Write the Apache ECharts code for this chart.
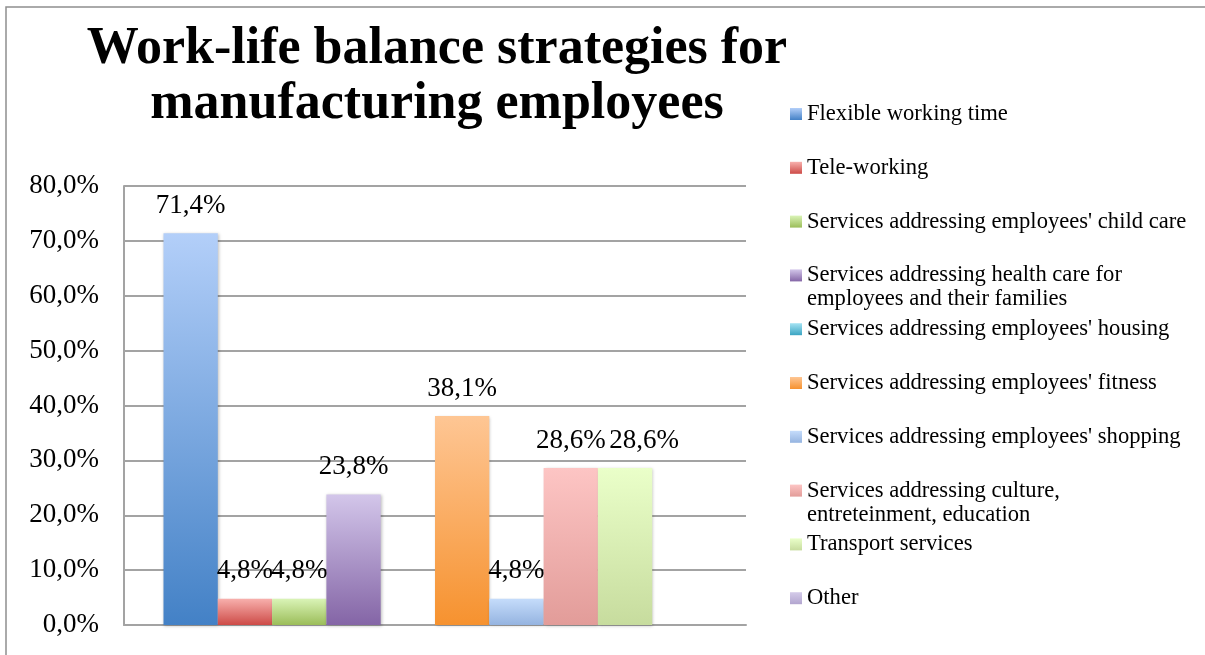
<!DOCTYPE html>
<html>
<head>
<meta charset="utf-8">
<title>Work-life balance strategies for manufacturing employees</title>
<script src="https://cdn.jsdelivr.net/npm/echarts@6/dist/echarts.min.js"></script>
<style>
  html, body { margin: 0; padding: 0; background: #ffffff; }
  #chart { width: 1205px; height: 655px; }
</style>
</head>
<body>
<div id="chart"></div>
<script>
// Survey results: share of manufacturing employers offering each strategy (%)
const seriesNames = [
  'Flexible working time',
  'Tele-working',
  "Services addressing employees' child care",
  'Services addressing health care for\nemployees and their families',
  "Services addressing employees' housing",
  "Services addressing employees' fitness",
  "Services addressing employees' shopping",
  'Services addressing culture,\nentreteinment, education',
  'Transport services',
  'Other'
];
const seriesValues = [71.4, 4.8, 4.8, 23.8, 0, 38.1, 4.8, 28.6, 28.6, 0];
const categories = [''];
const yTicks = [0, 10, 20, 30, 40, 50, 60, 70, 80];

// Bar fills: light tint at the top fading to the full colour at the base
const topColors = ['#b3cff9', '#f8b0ad', '#daf4b7', '#d3c6ea', '#a5e3f3',
                   '#fec694', '#c5dcfb', '#fdc5c4', '#eaffc9', '#d4cbe9'];
const baseColors = ['#4381c6', '#cd4b47', '#9bbd59', '#8465a6', '#3aa4c2',
                    '#f6922f', '#95b4e0', '#e29c99', '#c7dc9e', '#b2a5cf'];

const SERIF = '"Liberation Serif", "DejaVu Serif", serif';
const fmtPct = v => v.toFixed(1).replace('.', ',') + '%';

const chart = echarts.init(document.getElementById('chart'), null, { renderer: 'canvas' });

const gradient = i => new echarts.graphic.LinearGradient(0, 0, 0, 1, [
  { offset: 0, color: topColors[i] },
  { offset: 1, color: baseColors[i] }
]);

const series = seriesNames.map((name, i) => ({
  name: name,
  type: 'bar',
  barGap: '0%',
  barCategoryGap: '12.7%',
  data: [seriesValues[i]],
  itemStyle: {
    color: gradient(i),
    shadowColor: 'rgba(0,0,0,0.25)',
    shadowBlur: 3,
    shadowOffsetX: 1,
    shadowOffsetY: 1
  },
  label: {
    show: true,
    position: 'top',
    distance: 14,
    fontFamily: SERIF,
    fontSize: 27,
    color: '#000',
    // the transport label is nudged right so it clears its equal-height neighbour
    offset: name === 'Transport services' ? [19, 0] : [0, 0],
    formatter: p => (p.value > 0 ? fmtPct(p.value) : '')
  },
  emphasis: { disabled: true }
}));

// One legend block per entry so every entry starts on an even vertical rhythm;
// two-line names get a blank leading line so the swatch sits beside line one.
const LEG_LINE = 24;
const legends = seriesNames.map((name, i) => {
  const lines = name.split('\n').length;
  const h = lines > 1 ? LEG_LINE * (lines + 1) : LEG_LINE;
  const centre = 114 + 53.8 * i;
  return {
    data: [name],
    left: 790,
    top: centre - h / 2,
    orient: 'vertical',
    padding: 0,
    itemWidth: 12,
    itemHeight: 12,
    icon: 'rect',
    selectedMode: false,
    formatter: n => (n.indexOf('\n') >= 0 ? '\n' + n : n),
    textStyle: {
      fontFamily: SERIF,
      fontSize: 22.6,
      lineHeight: LEG_LINE,
      color: '#000'
    }
  };
});

const option = {
  animation: false,
  backgroundColor: '#ffffff',
  title: {
    text: 'Work-life balance strategies for\nmanufacturing employees',
    left: 437,
    top: 22,
    padding: 0,
    textAlign: 'center',
    textStyle: {
      fontFamily: SERIF,
      fontWeight: 'bold',
      fontSize: 52,
      lineHeight: 55,
      color: '#000'
    }
  },
  legend: legends,
  grid: {
    left: 124,
    right: 459,
    top: 186,
    bottom: 30,
    containLabel: false
  },
  xAxis: {
    type: 'category',
    data: categories,
    axisTick: { show: false },
    axisLabel: { show: false },
    axisLine: { show: true, lineStyle: { color: '#a3a3a3', width: 2 } }
  },
  yAxis: {
    type: 'value',
    min: yTicks[0],
    max: yTicks[yTicks.length - 1],
    interval: yTicks[1] - yTicks[0],
    axisLine: { show: true, lineStyle: { color: '#a3a3a3', width: 2 } },
    axisTick: { show: false },
    splitLine: { show: true, lineStyle: { color: '#a3a3a3', width: 2 } },
    axisLabel: {
      margin: 25,
      fontFamily: SERIF,
      fontSize: 27,
      color: '#000',
      formatter: v => fmtPct(v)
    }
  },
  graphic: [{
    type: 'rect',
    silent: true,
    shape: { x: 6, y: 7, width: 1400, height: 900 },
    style: { fill: 'none', stroke: '#8f8f8f', lineWidth: 1.5 }
  }],
  series: series
};

chart.setOption(option);
</script>
</body>
</html>
